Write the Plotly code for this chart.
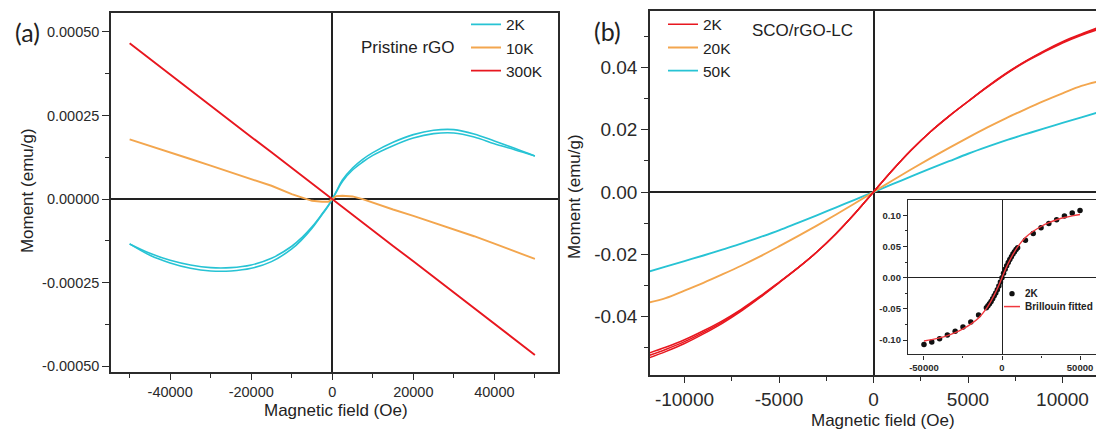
import plotly.graph_objects as go

W, H = 1096, 432

# ---------------- Panel (a): Pristine rGO ----------------
field_a = [-50000, -45000, -40000, -35000, -30000, -25000, -20000, -15000, -10000,
           -7500, -5000, -2500, -1000, 0, 1000, 2500, 5000, 7500, 10000,
           15000, 20000, 25000, 30000, 35000, 40000, 45000, 50000]
m_2k_down_a = [-0.000134, -0.000162, -0.000183, -0.000197, -0.000205, -0.000205, -0.000197,
               -0.000177, -0.000141, -0.000115, -0.000083, -0.000044, -0.000019, 0.0,
               0.000023, 0.000057, 0.000093, 0.000119, 0.000139, 0.000170, 0.000193,
               0.000206, 0.000208, 0.000195, 0.000174, 0.000152, 0.000129]
m_2k_up_a = [-0.000134, -0.000168, -0.000191, -0.000207, -0.000215, -0.000215, -0.000207,
             -0.000187, -0.000149, -0.000121, -0.000087, -0.000046, -0.000021, 0.0,
             0.000021, 0.000053, 0.000087, 0.000111, 0.000131, 0.000160, 0.000183,
             0.000196, 0.000198, 0.000186, 0.000166, 0.000148, 0.000129]
m_10k_a = [0.000179, 0.000160, 0.000140, 0.000120, 0.000100, 0.000080, 0.000061,
           0.000040, 0.000015, 0.000004, -0.000005, -0.000008, -0.000008, 0.0,
           0.000009, 0.000010, 0.000008, 0.000000, -0.000011, -0.000031, -0.000050,
           -0.000070, -0.000090, -0.000111, -0.000133, -0.000156, -0.000179]
m_300k_a = [0.000466, 0.000419, 0.000373, 0.000326, 0.000280, 0.000233, 0.000186,
            0.000140, 0.000093, 0.000070, 0.000047, 0.000023, 0.000008, 0.0,
            -0.000008, -0.000023, -0.000047, -0.000070, -0.000093, -0.000140, -0.000186,
            -0.000233, -0.000280, -0.000326, -0.000373, -0.000419, -0.000466]

a_xticks = [-40000, -20000, 0, 20000, 40000]
a_xticktext = ["-40000", "-20000", "0", "20000", "40000"]
a_xminor = [-50000, -30000, -10000, 10000, 30000, 50000]
a_yticks = [-0.0005, -0.00025, 0.0, 0.00025, 0.0005]
a_yticktext = ["-0.00050", "-0.00025", "0.00000", "0.00025", "0.00050"]
a_yminor = [-0.000375, -0.000125, 0.000125, 0.000375]

# ---------------- Panel (b): SCO/rGO-LC ----------------
field_b = [-12000, -11000, -10000, -9000, -8000, -7000, -6000, -5000, -4000, -3000, -2000,
           -1000, 0, 1000, 2000, 3000, 4000, 5000, 6000, 7000, 8000, 9000, 10000, 11000, 12000]
m_2k_b1 = [-0.0520, -0.0499, -0.0475, -0.0446, -0.0414, -0.0377, -0.0335, -0.0290, -0.0244,
           -0.0193, -0.0135, -0.0070, 0.0, 0.0070, 0.0135, 0.0193, 0.0244, 0.0291, 0.0338,
           0.0381, 0.0419, 0.0453, 0.0483, 0.0508, 0.0531]
m_2k_b2 = [-0.0528, -0.0506, -0.0481, -0.0451, -0.0418, -0.0380, -0.0337, -0.0291, -0.0244,
           -0.0193, -0.0135, -0.0070, 0.0, 0.0070, 0.0135, 0.0193, 0.0244, 0.0291, 0.0337,
           0.0380, 0.0418, 0.0451, 0.0481, 0.0506, 0.0528]
m_2k_b3 = [-0.0536, -0.0513, -0.0487, -0.0456, -0.0422, -0.0383, -0.0339, -0.0292, -0.0244,
           -0.0193, -0.0135, -0.0070, 0.0, 0.0070, 0.0135, 0.0193, 0.0244, 0.0291, 0.0336,
           0.0379, 0.0417, 0.0449, 0.0479, 0.0504, 0.0525]
m_20k_b = [-0.0357, -0.0341, -0.0317, -0.0292, -0.0265, -0.0237, -0.0207, -0.0175, -0.0142,
           -0.0108, -0.0073, -0.0037, 0.0, 0.0037, 0.0073, 0.0108, 0.0142, 0.0175, 0.0207,
           0.0237, 0.0265, 0.0292, 0.0317, 0.0341, 0.0357]
m_50k_b = [-0.0258, -0.0240, -0.0222, -0.0204, -0.0185, -0.0166, -0.0145, -0.0123, -0.0099,
           -0.0075, -0.0050, -0.0025, 0.0, 0.0025, 0.0050, 0.0075, 0.0099, 0.0123, 0.0145,
           0.0166, 0.0185, 0.0204, 0.0222, 0.0240, 0.0258]

b_xticks = [-10000, -5000, 0, 5000, 10000]
b_xticktext = ["-10000", "-5000", "0", "5000", "10000"]
b_xminor = [-7500, -2500, 2500, 7500]
b_yticks = [-0.04, -0.02, 0.0, 0.02, 0.04]
b_yticktext = ["-0.04", "-0.02", "0.00", "0.02", "0.04"]
b_yminor = [-0.05, -0.03, -0.01, 0.01, 0.03, 0.05]

# ---------------- Inset: 2K data with Brillouin fit ----------------
inset_field = [-50000, -45000, -40000, -35000, -30000, -25000, -20000, -15000, -10000, -9000,
               -8000, -7000, -6000, -5000, -4000, -3000, -2000, -1000, 0, 1000, 2000, 3000,
               4000, 5000, 6000, 7000, 8000, 9000, 10000, 15000, 20000, 25000, 30000, 35000,
               40000, 45000, 50000]
inset_m = [-0.107, -0.103, -0.098, -0.092, -0.086, -0.079, -0.071, -0.060, -0.0481, -0.0451,
           -0.0418, -0.0380, -0.0337, -0.0291, -0.0244, -0.0193, -0.0135, -0.0070, 0.0, 0.0070,
           0.0135, 0.0193, 0.0244, 0.0291, 0.0337, 0.0380, 0.0418, 0.0451, 0.0481, 0.060,
           0.071, 0.080, 0.087, 0.093, 0.099, 0.104, 0.108]
fit_field = [-50000, -45000, -40000, -35000, -30000, -25000, -20000, -15000, -10000, -7500,
             -5000, -2500, 0, 2500, 5000, 7500, 10000, 15000, 20000, 25000, 30000, 35000,
             40000, 45000, 50000]
fit_m = [-0.1015, -0.0993, -0.0966, -0.0930, -0.0883, -0.0822, -0.0745, -0.0645, -0.0495,
         -0.0395, -0.0280, -0.0150, 0.0, 0.0150, 0.0280, 0.0395, 0.0495, 0.0645, 0.0745,
         0.0822, 0.0883, 0.0930, 0.0966, 0.0993, 0.1015]

i_xticks = [-50000, 0, 50000]
i_xticktext = ["-50000", "0", "50000"]
i_xminor = [-25000, 25000]
i_yticks = [-0.10, -0.05, 0.0, 0.05, 0.10]
i_yticktext = ["-0.10", "-0.05", "0.00", "0.05", "0.10"]
i_yminor = [-0.075, -0.025, 0.025, 0.075]

# ---------------- Styling ----------------
CYAN = "#27C3D4"
ORANGE = "#F3A64E"
RED = "#E8171F"
AX = "#2b2b2b"
FONT = "Arial, 'Liberation Sans', sans-serif"


def px_x(p):
    return p / W


def px_y(p):
    return 1 - p / H


fig = go.Figure()

# Panel (a)
fig.add_trace(go.Scatter(x=field_a, y=m_2k_down_a, mode="lines", name="2K",
                         line=dict(color=CYAN, width=1.6, shape="spline"),
                         legend="legend", legendgroup="a2k", xaxis="x", yaxis="y"))
fig.add_trace(go.Scatter(x=field_a, y=m_2k_up_a, mode="lines", name="2K", showlegend=False,
                         line=dict(color=CYAN, width=1.6, shape="spline"),
                         legend="legend", legendgroup="a2k", xaxis="x", yaxis="y"))
fig.add_trace(go.Scatter(x=field_a, y=m_10k_a, mode="lines", name="10K",
                         line=dict(color=ORANGE, width=1.9),
                         legend="legend", xaxis="x", yaxis="y"))
fig.add_trace(go.Scatter(x=field_a, y=m_300k_a, mode="lines", name="300K",
                         line=dict(color=RED, width=1.9),
                         legend="legend", xaxis="x", yaxis="y"))

# Panel (b)
fig.add_trace(go.Scatter(x=field_b, y=m_50k_b, mode="lines", name="50K", legendrank=3,
                         line=dict(color=CYAN, width=1.9, shape="spline"),
                         legend="legend2", xaxis="x2", yaxis="y2"))
fig.add_trace(go.Scatter(x=field_b, y=m_20k_b, mode="lines", name="20K", legendrank=2,
                         line=dict(color=ORANGE, width=1.9, shape="spline"),
                         legend="legend2", xaxis="x2", yaxis="y2"))
for i, m in enumerate([m_2k_b1, m_2k_b2, m_2k_b3]):
    fig.add_trace(go.Scatter(x=field_b, y=m, mode="lines", name="2K", legendrank=1,
                             showlegend=(i == 1), legendgroup="b2k",
                             line=dict(color=RED, width=1.5, shape="spline"),
                             legend="legend2", xaxis="x2", yaxis="y2"))

# Inset
fig.add_trace(go.Scatter(x=inset_field, y=inset_m, mode="markers", name="2K", showlegend=False,
                         marker=dict(color="#111111", size=5.5),
                         xaxis="x3", yaxis="y3"))
fig.add_trace(go.Scatter(x=fit_field, y=fit_m, mode="lines", name="Brillouin fitted",
                         showlegend=False, line=dict(color="#F0383E", width=1.4, shape="spline"),
                         xaxis="x3", yaxis="y3"))


def axis(domain, rng, tickvals, ticktext, minor_vals, anchor, mirror, tfs, ticklen, mlen,
         bold=False, lw=1.5, zw=1.6):
    return dict(
        domain=domain, range=rng, anchor=anchor, tickmode="array", tickvals=tickvals,
        ticktext=ticktext, ticks="outside", ticklen=ticklen, tickwidth=1.3, tickcolor=AX,
        showline=True, linecolor=AX, linewidth=lw, mirror=mirror, showgrid=False,
        zeroline=True, zerolinecolor="#222222", zerolinewidth=zw,
        tickfont=dict(size=tfs, color="#2a2a2a", family=FONT,
                      weight="bold" if bold else "normal"),
        minor=dict(tickmode="array", tickvals=minor_vals, ticks="outside", ticklen=mlen,
                   tickwidth=1.2, tickcolor=AX, showgrid=False),
        fixedrange=True,
    )


layout_axes = dict(
    xaxis=axis([px_x(111), px_x(558)], [-54600, 55700], a_xticks, a_xticktext, a_xminor,
               "y", True, 14.5, 6, 4),
    yaxis=axis([px_y(374), px_y(13)], [-0.000518, 0.000557], a_yticks, a_yticktext, a_yminor,
               "x", True, 14.5, 7, 4),
    xaxis2=axis([px_x(650), 1.0], [-11825, 11772], b_xticks, b_xticktext, b_xminor,
                "y2", True, 19, 6, 4),
    yaxis2=axis([px_y(377), px_y(11)], [-0.0589, 0.0582], b_yticks, b_yticktext, b_yminor,
                "x2", False, 19, 7, 4),
    xaxis3=axis([px_x(908), 1.0], [-60230, 60230], i_xticks, i_xticktext, i_xminor,
                "y3", True, 9.5, 4, 2, bold=True, lw=1.3, zw=1.3),
    yaxis3=axis([px_y(356), px_y(201)], [-0.1230, 0.1246], i_yticks, i_yticktext, i_yminor,
                "x3", False, 9.5, 4, 2, bold=True, lw=1.3, zw=1.3),
)

annotations = [
    dict(text="Moment (emu/g)", x=px_x(27), y=px_y(192), textangle=-90, font=dict(size=17)),
    dict(text="Magnetic field (Oe)", x=px_x(336), y=px_y(412), font=dict(size=17)),
    dict(text="Moment (emu/g)", x=px_x(574), y=px_y(198), textangle=-90, font=dict(size=17)),
    dict(text="Magnetic field (Oe)", x=px_x(883), y=px_y(422), font=dict(size=17)),
    dict(text="Pristine rGO", x=px_x(457), y=px_y(48), xanchor="right", font=dict(size=17)),
    dict(text="SCO/rGO-LC", x=px_x(750), y=px_y(31), xanchor="left", font=dict(size=17)),
    dict(text="(a)", x=px_x(27), y=px_y(32), font=dict(size=25, family="Lato, Open Sans")),
    dict(text="(b)", x=px_x(607), y=px_y(31), font=dict(size=25, family="Lato, Open Sans")),
    dict(text="2K", x=px_x(1023), y=px_y(295), xanchor="left",
         font=dict(size=10, weight="bold")),
    dict(text="Brillouin fitted", x=px_x(1023), y=px_y(308), xanchor="left",
         font=dict(size=10, weight="bold")),
]
for a in annotations:
    a.setdefault("xanchor", "center")
    a.setdefault("yanchor", "middle")
    a.update(xref="paper", yref="paper", showarrow=False)

shapes = [
    # white background of the inset
    dict(type="rect", xref="paper", yref="paper", x0=px_x(908), x1=1.0, y0=px_y(356),
         y1=px_y(201), fillcolor="white", line=dict(width=0), layer="below"),
    # inset legend keys
    dict(type="circle", xref="paper", yref="paper", x0=px_x(1009.3), x1=px_x(1014.7),
         y0=px_y(297.7), y1=px_y(292.3), fillcolor="#111111", line=dict(width=0)),
    dict(type="line", xref="paper", yref="paper", x0=px_x(1004), x1=px_x(1020),
         y0=px_y(308), y1=px_y(308), line=dict(color="#F0383E", width=1.5)),
]

fig.update_layout(
    width=W, height=H, margin=dict(l=0, r=0, t=0, b=0),
    paper_bgcolor="white", plot_bgcolor="white",
    font=dict(family=FONT, color="#222222", size=14),
    legend=dict(x=px_x(466), y=px_y(48), xanchor="left", yanchor="middle",
                bgcolor="rgba(0,0,0,0)", borderwidth=0, font=dict(size=15.5),
                itemwidth=30, tracegroupgap=0, traceorder="normal"),
    legend2=dict(x=px_x(663), y=px_y(48), xanchor="left", yanchor="middle",
                 bgcolor="rgba(0,0,0,0)", borderwidth=0, font=dict(size=15.5),
                 itemwidth=30, tracegroupgap=0, traceorder="normal"),
    annotations=annotations,
    shapes=shapes,
    **layout_axes,
)

fig.write_html("out.html")
